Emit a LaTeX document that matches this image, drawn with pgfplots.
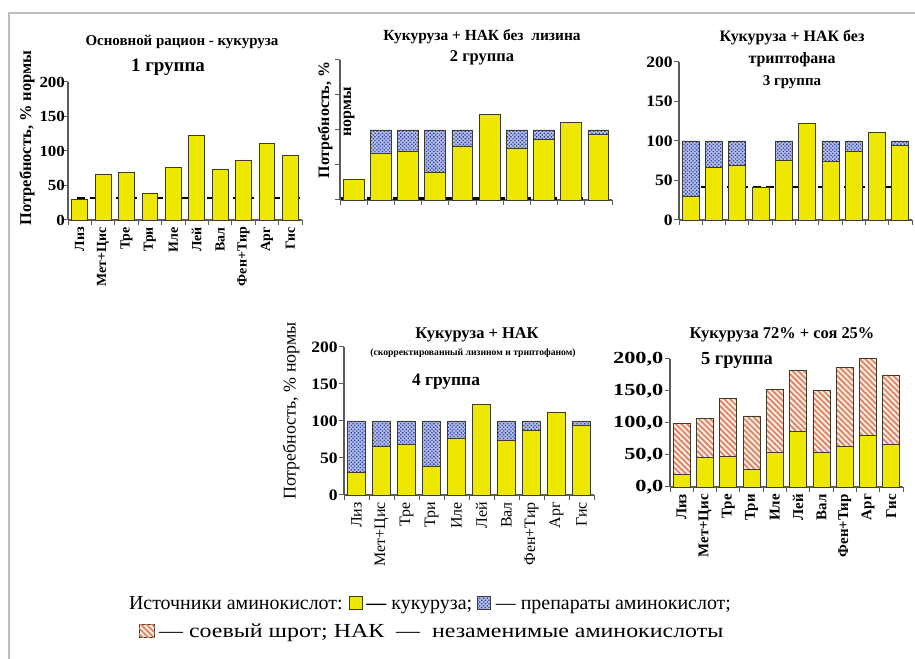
\documentclass[border=0pt]{standalone}
\usepackage{fontspec}
\setmainfont{Liberation Serif}
\usepackage{pgfplots}
\pgfplotsset{compat=1.18}
\usetikzlibrary{patterns,patterns.meta}

\definecolor{corn}{RGB}{238,232,0}
\definecolor{prepbg}{RGB}{180,190,235}
\definecolor{prepdot}{RGB}{40,60,160}
\definecolor{soybg}{RGB}{252,236,226}
\definecolor{soyline}{RGB}{222,128,95}
\definecolor{axisgray}{RGB}{90,90,90}
\definecolor{framegray}{RGB}{190,190,190}
\definecolor{baredge}{RGB}{60,60,40}

\newcommand\fs[1]{\fontsize{#1}{#1}\selectfont}

\tikzset{
  cornbar/.style={fill=corn, draw=baredge, line width=0.8bp},
  prepbar/.style={fill=prepbg, draw=baredge, line width=0.8bp,
    postaction={pattern={Dots[angle=45, distance=2.6bp, radius=0.9bp]}, pattern color=prepdot}},
  soybar/.style={fill=soybg, draw=baredge, line width=0.8bp,
    postaction={pattern={Lines[angle=-45, distance=4bp, line width=1.7bp]}, pattern color=soyline}},
  dline/.style={draw=black, line width=2.5bp, dash pattern=on 8bp off 5bp},
}

\pgfplotsset{
  panel/.style={
    scale only axis, anchor=south west,
    ybar stacked,
    xmin=-0.5, xmax=9.5, ymin=0, ymax=200,
    axis x line*=bottom, axis y line*=left,
    axis line style={draw=axisgray, line width=1.2bp, -},
    xtick={0,...,9}, major x tick style={draw=none},
    minor xtick={-0.5,0.5,...,9.5},
    ytick={0,50,...,200},
    tick align=outside,
    tick style={draw=axisgray, line width=1bp},
    major tick length=5bp, minor tick length=5bp,
    clip=false,
    /pgf/number format/assume math mode=true,
    yticklabel style={font=\fs{16}\bfseries, inner xsep=1bp, xscale=1.1},
    xticklabel style={rotate=90, anchor=east, font=\fs{14}\bfseries, inner xsep=2bp},
    xticklabels={Лиз,Мет+Цис,Тре,Три,Иле,Лей,Вал,Фен+Тир,Арг,Гис},
  },
}

\begin{document}
\begin{tikzpicture}
\fill[white] (0,0) rectangle (915bp,659bp);
\draw[framegray, line width=1.5bp] (9bp,0) -- (9bp,646bp) -- (915bp,646bp);

% ---- 1 группа
\begin{axis}[panel, at={(68bp,439bp)}, width=234bp, height=138bp, bar width=0.68,
  yticklabel style={font=\fs{15.5}\bfseries, xshift=3bp}]
\addplot[cornbar] coordinates {(0,30) (1,66) (2,69) (3,39) (4,76) (5,122) (6,74) (7,87) (8,111) (9,94)};
\draw[dline] (axis cs:-0.12,32) -- (axis cs:9.4,32);
\end{axis}
\node[font=\fs{15}\bfseries] at (182bp,617bp) {Основной рацион - кукуруза};
\node[font=\fs{19}\bfseries] at (168bp,592bp) {1 группа};
\node[font=\fs{16.5}\bfseries, rotate=90] at (27bp,521bp) {Потребность, \% нормы};

% ---- 2 группа
\begin{axis}[panel, at={(340bp,459bp)}, width=272bp, height=140bp, bar width=0.77,
  xticklabels={}, yticklabels={}]
\addplot[cornbar] coordinates {(0,30) (1,66) (2,69) (3,39) (4,76) (5,122) (6,74) (7,87) (8,111) (9,94)};
\addplot[prepbar] coordinates {(0,0) (1,34) (2,31) (3,61) (4,24) (5,0) (6,26) (7,13) (8,0) (9,6)};
\draw[dline] (axis cs:-0.45,2) -- (axis cs:9.5,2);
\end{axis}
\node[font=\fs{15.5}\bfseries] at (482bp,622bp) {Кукуруза + НАК без\ \ лизина};
\node[font=\fs{16.5}\bfseries] at (482bp,601bp) {2 группа};
\node[font=\fs{16}\bfseries, rotate=90] at (325bp,539bp) {Потребность, \%};
\node[font=\fs{16}\bfseries, rotate=90] at (349bp,547bp) {нормы};

% ---- 3 группа
\begin{axis}[panel, at={(679bp,439bp)}, width=233bp, height=158bp, bar width=0.73,
  xticklabels={}]
\addplot[cornbar] coordinates {(0,30) (1,66) (2,69) (3,41) (4,76) (5,122) (6,74) (7,87) (8,111) (9,94)};
\addplot[prepbar] coordinates {(0,70) (1,34) (2,31) (3,0) (4,24) (5,0) (6,26) (7,13) (8,0) (9,6)};
\draw[dline] (axis cs:-0.11,42) -- (axis cs:9.11,42);
\end{axis}
\node[font=\fs{16}\bfseries] at (792bp,621bp) {Кукуруза + НАК без};
\node[font=\fs{16}\bfseries] at (792bp,599bp) {триптофана};
\node[font=\fs{15}\bfseries] at (792bp,577bp) {3 группа};

% ---- 4 группа
\begin{axis}[panel, at={(344bp,164bp)}, width=250bp, height=148bp, bar width=0.72,
  xticklabel style={font=\fs{16}\mdseries}]
\addplot[cornbar] coordinates {(0,30) (1,66) (2,69) (3,39) (4,76) (5,122) (6,74) (7,87) (8,111) (9,94)};
\addplot[prepbar] coordinates {(0,70) (1,34) (2,31) (3,61) (4,24) (5,0) (6,26) (7,13) (8,0) (9,6)};
\end{axis}
\node[font=\fs{16.5}\bfseries] at (477bp,324bp) {Кукуруза + НАК};
\node[font=\fs{9.7}\bfseries] at (473bp,306bp) {(скорректированный лизином и триптофаном)};
\node[font=\fs{17.5}\bfseries] at (446bp,277bp) {4 группа};
\node[font=\fs{18}, rotate=90] at (291bp,248bp) {Потребность, \% нормы};

% ---- 5 группа
\begin{axis}[panel, at={(670bp,172bp)}, width=233bp, height=128bp, bar width=0.73,
  yticklabel style={font=\fs{17}\bfseries, xscale=1.2},
  xticklabel style={font=\fs{15}\bfseries},
  yticklabels={{0,0},{50,0},{100,0},{150,0},{200,0}}]
\addplot[cornbar] coordinates {(0,20) (1,46) (2,48) (3,27) (4,54) (5,87) (6,54) (7,63) (8,81) (9,66)};
\addplot[soybar] coordinates {(0,79) (1,61) (2,90) (3,84) (4,99) (5,95) (6,97) (7,124) (8,120) (9,109)};
\draw[white, line width=2bp] (axis cs:-0.45,89) -- (axis cs:9.93,89);
\end{axis}
\node[font=\fs{16.5}\bfseries] at (782bp,324bp) {Кукуруза 72\% + соя 25\%};
\node[font=\fs{18.5}\bfseries] at (737bp,299bp) {5 группа};

% ---- legend
\node[font=\fs{20}] at (430bp,54bp) {Источники аминокислот:
  \tikz[baseline=0bp]\draw[cornbar] (0,0) rectangle (13bp,13bp);\,\textbf{—} кукуруза;
  \tikz[baseline=0bp]\draw[prepbar] (0,0) rectangle (13bp,13bp);\ — препараты аминокислот;};
\node[font=\fs{20}, xscale=1.2] at (431bp,26bp) {\tikz[baseline=0bp]\draw[soybar] (0,0) rectangle (13bp,13bp);\,— соевый шрот; НАК\ \ —\ \ незаменимые аминокислоты};

\pgfresetboundingbox
\useasboundingbox (0,0) rectangle (915bp,659bp);
\end{tikzpicture}
\end{document}
